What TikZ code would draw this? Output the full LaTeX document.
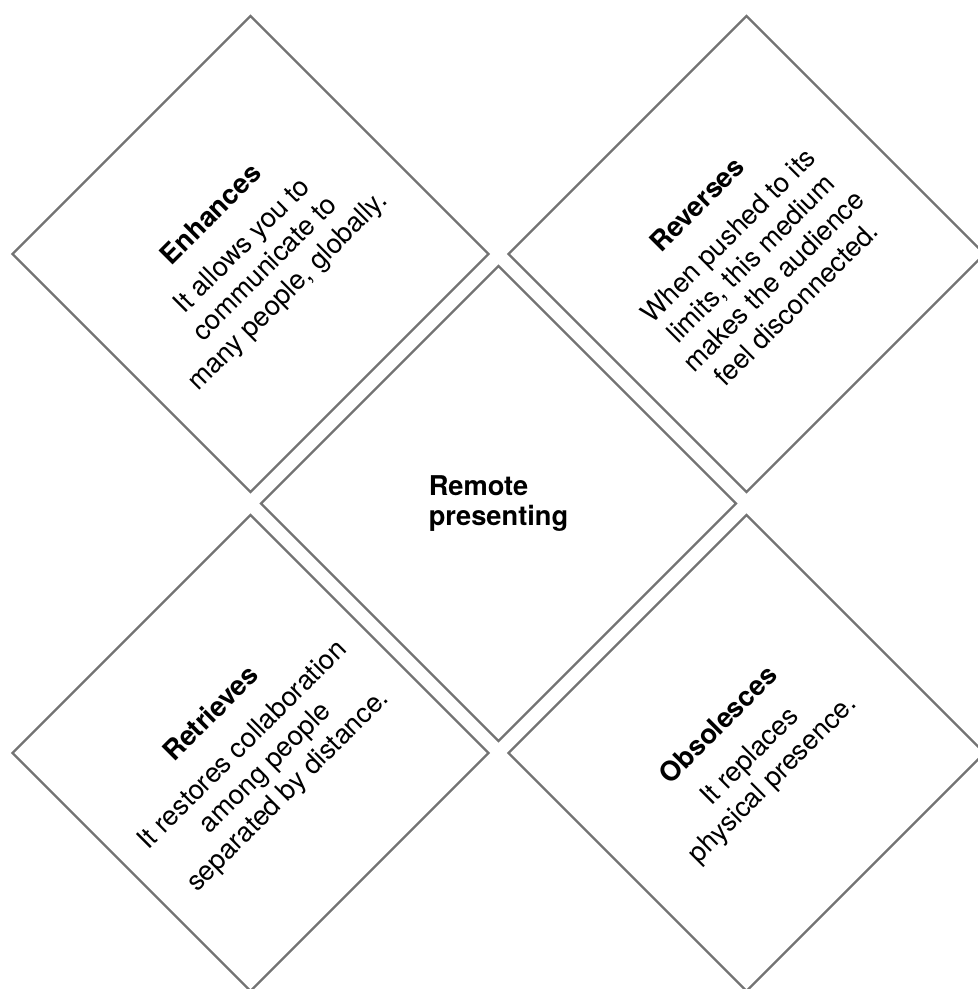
\documentclass[tikz,border=0pt]{standalone}
\usepackage{fontspec}
\setmainfont{TeX Gyre Heros}
\usetikzlibrary{shapes.geometric}

\begin{document}
\begin{tikzpicture}[
  card/.style={draw=black!55, line width=1.3pt, rotate=45, minimum size=6.73cm, inner sep=0pt, align=center, font=\fontsize{15.5}{18.3}\selectfont},
  hub/.style={diamond, aspect=1, draw=black!55, line width=1.3pt, minimum size=9.52cm, inner sep=0pt, align=left, font=\bfseries\fontsize{15.5}{16.8}\selectfont}]
  \useasboundingbox (0,0) rectangle (19.54,19.78);
  \node[hub] (mid) at (9.97,9.71) {Remote\\presenting};
  \node[card] (enh) at (5.01,14.70) {\textbf{Enhances}\\[6.5pt]It allows you to\\communicate to\\many people, globally.};
  \node[card] (rev) at (14.93,14.70) {\textbf{Reverses}\\[6.5pt]When pushed to its\\limits, this medium\\makes the audience\\feel disconnected.};
  \node[card] (ret) at (5.01,4.72) {\textbf{Retrieves}\\[6.5pt]It restores collaboration\\among people\\separated by distance.};
  \node[card] (obs) at (14.93,4.72) {\textbf{Obsolesces}\\[6.5pt]It replaces\\physical presence.};
\end{tikzpicture}
\end{document}
